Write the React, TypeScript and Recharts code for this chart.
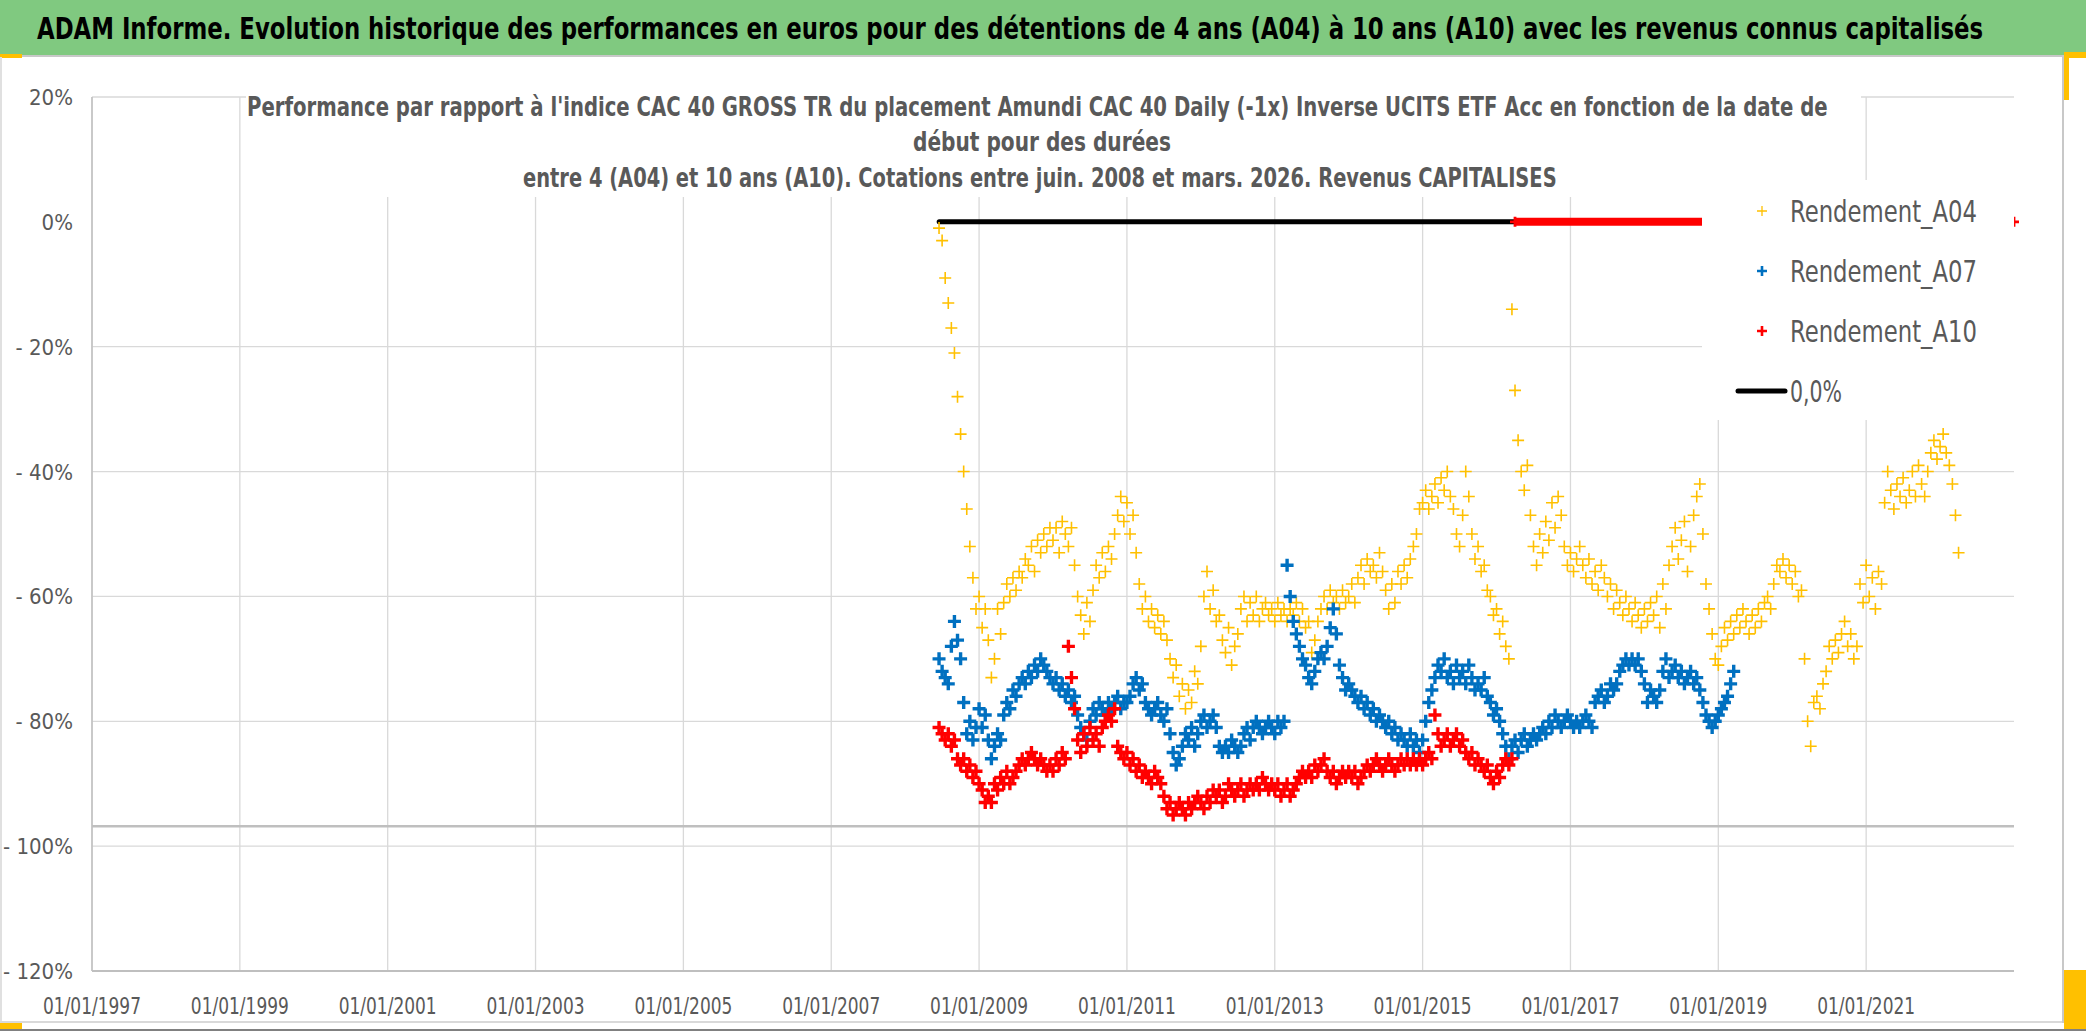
import React from 'react';
import { ScatterChart, Scatter, XAxis, YAxis, CartesianGrid, ReferenceLine, Legend } from 'recharts';

const FONT = "'Liberation Sans Narrow', 'Arial Narrow', 'DejaVu Sans Condensed', 'Liberation Sans', sans-serif";
const TEXT_GREY = '#595959';

// start dates: one reading every half month, from mid-June 2008
const FIRST_DATE = 2008 + 11 / 24;
const STEP = 1 / 24;

// performance (%), one row per calendar year
const RENDEMENT_A04 = [
  -1, -3, -9, -13, -17, -21, -28, -34, -40, -46, -52, -57, -62,
  -60, -65, -62, -67, -73, -70, -62, -66, -61, -58, -60, -57, -59, -56, -57, -54, -55, -52, -56, -51, -53, -50, -52, -49,
  -51, -49, -53, -48, -50, -52, -49, -55, -60, -63, -66, -61, -64, -59, -55, -57, -53, -56, -52, -54, -50, -47, -44, -48,
  -45, -50, -47, -53, -58, -62, -60, -64, -62, -65, -63, -66, -64, -67, -70, -73, -71, -76, -74, -78, -75, -77, -72, -74,
  -68, -60, -56, -62, -59, -64, -63, -67, -69, -65, -71, -68, -66, -62, -60, -64, -61, -63, -60, -64, -62, -61, -63, -62,
  -64, -61, -63, -62, -64, -62, -63, -61, -64, -62, -65, -64, -69, -67, -64, -62, -60, -62, -59, -61, -60, -62, -59, -61,
  -60, -58, -61, -57, -55, -58, -54, -56, -55, -57, -53, -56, -59, -62, -58, -61, -56, -58, -55, -57, -54, -52, -50, -46,
  -45, -43, -46, -44, -42, -45, -41, -43, -40, -44, -46, -50, -52, -47, -40, -44, -50, -54, -52, -56, -55, -59, -60, -63,
  -62, -66, -64, -68, -70, -14, -27, -35, -40, -43, -39, -47, -52, -55, -50, -53, -48, -51, -45, -49, -44, -47, -52, -55,
  -53, -56, -54, -52, -55, -57, -54, -58, -56, -59, -55, -57, -60, -58, -62, -59, -61, -63, -60, -62, -64, -61, -63, -65,
  -62, -64, -61, -63, -60, -65, -58, -62, -55, -52, -49, -54, -51, -48, -56, -52, -47, -44, -42, -50, -58, -62, -66, -70,
  -71, -68, -65, -67, -64, -66, -63, -65, -62, -64, -66, -63, -65, -62, -64, -61, -60, -62, -58, -55, -56, -54, -57, -55,
  -58, -56, -60, -59, -70, -80, -84, -77, -76, -78, -74, -72, -68, -70, -67, -69, -66, -64, -68, -66, -70, -68, -58, -61,
  -55, -60, -57, -62, -56, -58, -45, -40, -43, -46, -42, -44, -41, -45, -43, -40, -44, -39, -42, -44, -40, -37, -35, -38,
  -36, -34, -37, -39, -42, -47, -53,
];

const RENDEMENT_A07 = [
  -70, -72, -73, -74, -68, -64, -67, -70, -77, -82, -80, -83, -81,
  -78, -81, -79, -83, -86, -84, -82, -83, -79, -77, -78, -75, -76, -74, -73, -74, -72, -73, -71, -72, -70, -71, -72, -73,
  -74, -73, -75, -74, -76, -75, -77, -76, -79, -81, -82, -83, -80, -78, -79, -77, -78, -79, -77, -78, -77, -76, -78, -77,
  -77, -76, -74, -73, -75, -74, -77, -78, -79, -78, -77, -79, -80, -78, -82, -85, -87, -86, -84, -82, -83, -81, -84, -82,
  -80, -79, -81, -80, -79, -81, -84, -85, -84, -85, -83, -84, -85, -84, -82, -81, -83, -81, -80, -81, -82, -81, -80, -81,
  -82, -80, -81, -80, -55, -60, -64, -66, -68, -70, -71, -73, -74, -72, -70, -69, -70, -68, -65, -62, -66, -71, -73, -75,
  -74, -75, -76, -77, -76, -78, -77, -79, -78, -80, -79, -80, -81, -80, -82, -81, -83, -82, -83, -84, -82, -84, -83, -85,
  -83, -80, -77, -75, -73, -71, -72, -70, -73, -72, -74, -71, -73, -72, -74, -71, -73, -75, -74, -75, -73, -76, -77, -79,
  -78, -80, -82, -84, -86, -84, -83, -85, -83, -82, -84, -83, -82, -83, -82, -81, -82, -80, -81, -79, -80, -81, -80, -79,
  -80, -81, -80, -81, -80, -79, -80, -81, -77, -76, -75, -77, -76, -74, -75, -74, -72, -71, -70, -71, -70, -71, -70, -72,
  -74, -77, -75, -76, -77, -75, -72, -70, -73, -72, -71, -73, -72, -74, -73, -72, -74, -73, -75, -77, -79, -80, -81, -80,
  -79, -78, -77, -76, -74, -72,
];

const RENDEMENT_A10 = [
  -81, -82, -83, -82, -84, -83, -86, -87, -86, -88, -87, -89, -88,
  -90, -91, -93, -92, -93, -90, -91, -89, -90, -88, -90, -89, -88, -87, -86, -87, -86, -85, -86, -87, -86, -87, -88, -87,
  -88, -86, -87, -85, -86, -68, -73, -78, -83, -85, -82, -84, -81, -83, -82, -84, -81, -80, -79, -80, -78, -84, -85, -86,
  -85, -87, -86, -88, -87, -89, -88, -89, -90, -88, -89, -90, -92, -94, -93, -95, -94, -93, -94, -95, -93, -94, -93, -92,
  -93, -94, -92, -93, -91, -92, -91, -93, -92, -90, -91, -92, -91, -90, -92, -91, -90, -91, -90, -91, -89, -90, -91, -90,
  -91, -90, -92, -91, -90, -92, -91, -90, -89, -88, -89, -88, -89, -87, -88, -87, -86, -88, -89, -88, -90, -89, -88, -89,
  -88, -89, -88, -90, -89, -88, -87, -88, -87, -86, -87, -88, -87, -86, -87, -88, -87, -86, -87, -86, -87, -86, -87, -86,
  -87, -86, -85, -86, -79, -82, -84, -83, -82, -84, -83, -82, -84, -83, -85, -86, -85, -87, -86, -87, -88, -87, -89, -90,
  -88, -89, -87, -86, -87, -86,
];

// A10 has no full 10-year window after spring 2016, those dates sit at 0
const A10_ZERO_DATES = [2016.25, 2023];
const ZERO_LINE_DATES = [2008.46, 2016.25];
const FLOOR_LEVEL = -96.8;

const YEAR_TICKS = [1997, 1999, 2001, 2003, 2005, 2007, 2009, 2011, 2013, 2015, 2017, 2019, 2021];
const PCT_TICKS = [20, 0, -20, -40, -60, -80, -100, -120];
const GRID_LEVELS = [20, -20, -40, -60, -80, -100, -120];

const BANNER = 'ADAM Informe. Evolution historique des performances en euros pour des détentions de 4 ans (A04) à 10 ans (A10) avec les revenus connus capitalisés';
const TITLE_LINES = [
  "Performance par rapport à l'indice CAC 40 GROSS TR  du placement Amundi CAC 40 Daily (-1x) Inverse UCITS ETF Acc en fonction de la date de",
  'début pour des durées',
  'entre 4 (A04) et 10 ans (A10). Cotations entre juin. 2008 et mars. 2026. Revenus CAPITALISES',
];
const TITLE_BOXES = [
  { x: 247, y: 116, w: 1581 },
  { x: 913, y: 151, w: 258 },
  { x: 523, y: 187, w: 1034 },
];

const LEGEND_ITEMS = [
  { name: 'Rendement_A04', color: '#FFC000', kind: 'thin', w: 187 },
  { name: 'Rendement_A07', color: '#0070C0', kind: 'bold', w: 187 },
  { name: 'Rendement_A10', color: '#FF0000', kind: 'bold', w: 187 },
  { name: '0,0%', color: '#000000', kind: 'line', w: 52 },
];

const toPoints = (values: number[]) => values.map((v, i) => ({ x: FIRST_DATE + i * STEP, y: v }));
const flat = (dates: number[]) => dates.map((d) => ({ x: d, y: 0 }));

const a04 = toPoints(RENDEMENT_A04);
const a07 = toPoints(RENDEMENT_A07);
const a10 = toPoints(RENDEMENT_A10);

const cross = (color: string, half: number, sw: number) => (props: any) => {
  const { cx, cy } = props;
  if (cx == null || cy == null) return <g />;
  return (
    <path
      d={`M${cx - half},${cy}H${cx + half}M${cx},${cy - half}V${cy + half}`}
      stroke={color}
      strokeWidth={sw}
      fill="none"
    />
  );
};

const pctLabel = (v: number) => (v < 0 ? `- ${-v}%` : `${v}%`);

// squeeze a long line horizontally to the width it has in the picture (condensed Calibri look)
const FitText = ({ x, y, width, children, ...rest }: any) => {
  const ref = React.useRef<SVGTextElement>(null);
  const [k, setK] = React.useState(1);
  React.useLayoutEffect(() => {
    if (ref.current) {
      const natural = ref.current.getComputedTextLength();
      if (natural > 0) setK(width / natural);
    }
  }, [width, children]);
  return (
    <text ref={ref} x={x} y={y} transform={`translate(${x} 0) scale(${k} 1) translate(${-x} 0)`} {...rest}>
      {children}
    </text>
  );
};

const XTick = (props: any) => {
  const { x, y, payload } = props;
  return (
    <text x={x} y={y + 43} textAnchor="middle" fill={TEXT_GREY} fontSize={23} fontFamily={FONT}
      textLength={98} lengthAdjust="spacingAndGlyphs">
      {`01/01/${payload.value}`}
    </text>
  );
};

const YTick = (props: any) => {
  const { x, y, payload } = props;
  return (
    <text x={x - 19} y={y + 8} textAnchor="end" fill={TEXT_GREY} fontSize={22} fontFamily={FONT}>
      {pctLabel(payload.value)}
    </text>
  );
};

const LegendBox = () => (
  <svg width={312} height={240} style={{ display: 'block', background: '#fff' }}>
    {LEGEND_ITEMS.map((item, i) => {
      const cy = 31 + i * 60;
      return (
        <g key={item.name}>
          {item.kind === 'line' ? (
            <line x1={36} x2={83} y1={cy} y2={cy} stroke={item.color} strokeWidth={5} strokeLinecap="round" />
          ) : (
            <path d={`M55,${cy}H65M60,${cy - 5}V${cy + 5}`} stroke={item.color}
              strokeWidth={item.kind === 'bold' ? 2.6 : 1.3} fill="none" />
          )}
          <text x={88} y={cy + 11} fill={TEXT_GREY} fontSize={30} fontFamily={FONT}
            textLength={item.w} lengthAdjust="spacingAndGlyphs">
            {item.name}
          </text>
        </g>
      );
    })}
  </svg>
);

const Frame = () => (
  <svg width={2086} height={1031} style={{ position: 'absolute', left: 0, top: 0, pointerEvents: 'none' }}>
    <rect x={0} y={0} width={2086} height={55} fill="#80C980" />
    <rect x={0} y={55} width={2086} height={2} fill="#c8c8c8" />
    <FitText x={37} y={39} width={1947} fontSize={31} fontWeight="bold" fontFamily={FONT} fill="#000">{BANNER}</FitText>
    <rect x={0} y={54} width={22} height={4} fill="#FFC000" />
    <rect x={0} y={57} width={2} height={965} fill="#e0e0e0" />
    <rect x={2062} y={57} width={2} height={966} fill="#c8c8c8" />
    <rect x={2064} y={52} width={22} height={6} fill="#FFC000" />
    <rect x={2064} y={52} width={5} height={48} fill="#FFC000" />
    <rect x={2064} y={970} width={22} height={61} fill="#FFC000" />
    <rect x={0} y={1021} width={2062} height={2} fill="#d9d9d9" />
    <rect x={0} y={1029} width={2086} height={2} fill="#808080" />
    <rect x={0} y={1023} width={22} height={6} fill="#FFC000" />
    <rect x={246} y={86} width={1456} height={111} fill="#fff" />
    <rect x={1702} y={86} width={159} height={94} fill="#fff" />
    {TITLE_LINES.map((t, i) => (
      <FitText key={i} x={TITLE_BOXES[i].x} y={TITLE_BOXES[i].y} width={TITLE_BOXES[i].w} fontSize={26}
        fontWeight="bold" fontFamily={FONT} fill={TEXT_GREY}>{t}</FitText>
    ))}
  </svg>
);

export default function App() {
  return (
    <div style={{ position: 'relative', width: 2086, height: 1031, background: '#fff', overflow: 'hidden' }}>
      <style>{'body{margin:0}'}</style>
      <ScatterChart width={2086} height={1031} margin={{ top: 97, right: 72, bottom: 0, left: 0 }}>
        <CartesianGrid stroke="#d9d9d9" strokeWidth={1.3} horizontalValues={GRID_LEVELS} verticalValues={YEAR_TICKS} />
        <XAxis type="number" dataKey="x" domain={[1997, 2023]} ticks={YEAR_TICKS} interval={0} height={60}
          tickSize={0} tickMargin={0} tickLine={false} axisLine={{ stroke: '#bfbfbf', strokeWidth: 2 }} tick={XTick} />
        <YAxis type="number" dataKey="y" domain={[-120, 20]} ticks={PCT_TICKS} interval={0} width={92}
          tickSize={0} tickMargin={0} tickLine={false} axisLine={{ stroke: '#bfbfbf', strokeWidth: 1.5 }} tick={YTick} />
        <ReferenceLine y={FLOOR_LEVEL} stroke="#bfbfbf" strokeWidth={2.5} />
        <Scatter name="0,0%" data={flat(ZERO_LINE_DATES)} line={{ stroke: '#000', strokeWidth: 5, strokeLinecap: 'round' }}
          shape={() => <g />} isAnimationActive={false} />
        <Scatter name="Rendement_A04" data={a04} shape={cross('#FFC000', 6, 1.6)} isAnimationActive={false} />
        <Scatter name="Rendement_A07" data={a07} shape={cross('#0070C0', 6.5, 3.4)} isAnimationActive={false} />
        <Scatter name="Rendement_A10" data={a10} shape={cross('#FF0000', 6.5, 3.4)} isAnimationActive={false} />
        <Scatter name="A10 zero" legendType="none" data={flat(A10_ZERO_DATES)} line={{ stroke: '#FF0000', strokeWidth: 8 }}
          shape={cross('#FF0000', 5, 2.8)} isAnimationActive={false} />
        <Legend layout="vertical" align="center" verticalAlign="middle"
          wrapperStyle={{ left: 1702, top: 180, width: 312, height: 240 }} content={() => <LegendBox />} />
      </ScatterChart>
      <Frame />
    </div>
  );
}
